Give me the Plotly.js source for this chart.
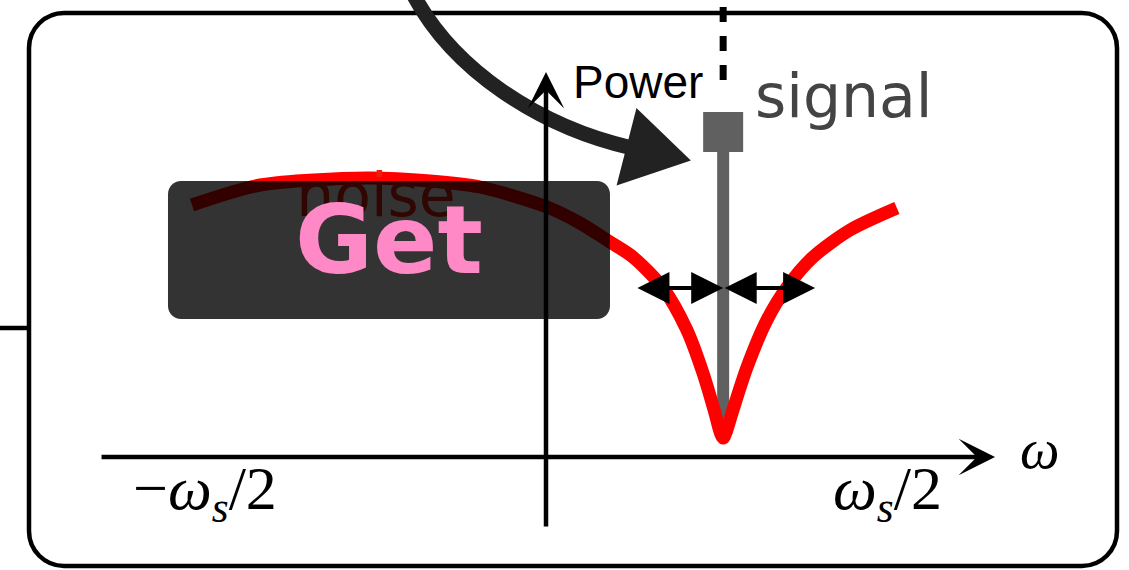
<!DOCTYPE html>
<html>
<head>
<meta charset="utf-8">
<script src="https://cdn.plot.ly/plotly-3.0.1.min.js"></script>
<style>
  html, body { margin: 0; padding: 0; background: #ffffff; }
  #chart { width: 1129px; height: 570px; }
</style>
</head>
<body>
<div id="chart"></div>
<script>
// Noise power spectrum: ω in units of ωs/2, power in arbitrary units.
const noiseOmega = [-1.035, -0.836, -0.523, -0.339, -0.193, 0.003, 0.099, 0.187, 0.254, 0.342,
                    0.412, 0.459, 0.494, 0.509, 0.518, 0.527, 0.544, 0.588, 0.646, 0.705,
                    0.781, 0.889, 1.026];
const noisePower = [2.52, 2.72, 2.79, 2.76, 2.70, 2.50, 2.34, 2.15, 2.00, 1.69,
                    1.27, 0.84, 0.44, 0.25, 0.19, 0.25, 0.44, 0.90, 1.37, 1.70,
                    2.00, 2.27, 2.49];

// Single tone sitting in the notch of the noise.
const signalOmega = [0.518];
const signalPower = [3.25];

// Width of the notch on either side of the tone.
const bandEdges = [0.263, 0.787];
const bandLevel = 1.69;

// Frequency axis labels.
const tickValues = [-1, 1];
const tickLabels = ['−<i>ω<sub>s</sub></i>/2', '<i>ω<sub>s</sub></i>/2'];

// Axis extents (data units).
const omegaAxis = [-1.304, 1.313];
const powerAxis = [-0.71, 3.85];

// ---- scale between screen pixels and data units (for frame decorations) ----
const W = 1129, H = 570;
const ORIGIN_X = 546, ORIGIN_Y = 457, UNIT_X = 342, UNIT_Y = 100;
const X = px => (px - ORIGIN_X) / UNIT_X;
const Y = py => (ORIGIN_Y - py) / UNIT_Y;
const P = (px, py) => X(px).toFixed(4) + ',' + Y(py).toFixed(4);

function roundRectPath(x0, y0, x1, y1, r) {
  const k = 0.5523 * r;
  return 'M' + P(x0 + r, y0) +
    ' L' + P(x1 - r, y0) +
    ' C' + P(x1 - r + k, y0) + ' ' + P(x1, y0 + r - k) + ' ' + P(x1, y0 + r) +
    ' L' + P(x1, y1 - r) +
    ' C' + P(x1, y1 - r + k) + ' ' + P(x1 - r + k, y1) + ' ' + P(x1 - r, y1) +
    ' L' + P(x0 + r, y1) +
    ' C' + P(x0 + r - k, y1) + ' ' + P(x0, y1 - r + k) + ' ' + P(x0, y1 - r) +
    ' L' + P(x0, y0 + r) +
    ' C' + P(x0, y0 + r - k) + ' ' + P(x0 + r - k, y0) + ' ' + P(x0 + r, y0) + ' Z';
}

const noiseFloor = Math.min(...noisePower);

const traces = [
  { // signal stem
    x: [signalOmega[0], signalOmega[0]], y: [noiseFloor, signalPower[0]],
    mode: 'lines', line: { color: '#606060', width: 12 }, hoverinfo: 'skip'
  },
  { // signal head
    x: signalOmega, y: signalPower, mode: 'markers',
    marker: { symbol: 'square', size: 40, color: '#606060' }, hoverinfo: 'skip'
  },
  { // noise spectrum
    x: noiseOmega, y: noisePower, mode: 'lines',
    line: { color: '#ff0000', width: 13, shape: 'spline', smoothing: 0.8 }, hoverinfo: 'skip'
  },
  { // noise label
    x: [X(376)], y: [Y(201)], mode: 'text', text: ['noise'],
    textposition: 'middle center',
    textfont: { family: 'DejaVu Sans', size: 60, color: '#e8200a' }, hoverinfo: 'skip'
  }
];

const shapes = [
  { // rounded frame
    type: 'path', layer: 'below', path: roundRectPath(29, 13, 1117, 566, 35),
    line: { color: '#000000', width: 4.5 }, fillcolor: 'rgba(0,0,0,0)'
  },
  { // connector stub on the left
    type: 'line', layer: 'below', x0: X(0), x1: X(29), y0: Y(328), y1: Y(328),
    line: { color: '#000000', width: 4.5 }
  },
  { // dashed lead to the tone
    type: 'line', layer: 'above', x0: signalOmega[0], x1: signalOmega[0], y0: Y(80), y1: Y(0),
    line: { color: '#000000', width: 7, dash: '15px,14px' }
  },
  { // curved pointer shaft
    type: 'path', layer: 'above',
    path: 'M' + P(412, -8) + ' C' + P(452, 70) + ' ' + P(540, 127) + ' ' + P(632, 148),
    line: { color: '#222222', width: 15 }, fillcolor: 'rgba(0,0,0,0)'
  },
  { // curved pointer head
    type: 'path', layer: 'above',
    path: 'M' + P(637, 110) + ' L' + P(689, 160) + ' L' + P(618, 184) + ' Z',
    line: { color: '#222222', width: 2 }, fillcolor: '#222222'
  },
  { // translucent caption panel
    type: 'path', layer: 'above', path: roundRectPath(168, 181, 610, 319, 13),
    line: { width: 0 }, fillcolor: 'rgba(0,0,0,0.8)'
  }
];

const arrowBase = {
  text: '', showarrow: true, axref: 'x', ayref: 'y', xref: 'x', yref: 'y',
  arrowcolor: '#000000', standoff: 0, startstandoff: 0
};

const annotations = [
  Object.assign({}, arrowBase, { // frequency axis
    x: omegaAxis[1], y: 0, ax: omegaAxis[0], ay: 0,
    arrowhead: 3, arrowwidth: 4.5, arrowsize: 1.35
  }),
  Object.assign({}, arrowBase, { // power axis
    x: 0, y: powerAxis[1], ax: 0, ay: powerAxis[0],
    arrowhead: 3, arrowwidth: 4.5, arrowsize: 1.35
  }),
  Object.assign({}, arrowBase, { // lower half of the notch
    x: signalOmega[0], y: bandLevel, ax: bandEdges[0], ay: bandLevel,
    arrowside: 'end+start', arrowhead: 2, startarrowhead: 2,
    arrowwidth: 4, arrowsize: 1.6, startarrowsize: 1.6
  }),
  Object.assign({}, arrowBase, { // upper half of the notch
    x: bandEdges[1], y: bandLevel, ax: signalOmega[0], ay: bandLevel,
    arrowside: 'end+start', arrowhead: 2, startarrowhead: 2,
    arrowwidth: 4, arrowsize: 1.6, startarrowsize: 1.6
  }),
  { x: X(571), y: Y(82), xref: 'x', yref: 'y', text: 'Power', showarrow: false,
    xanchor: 'left', yanchor: 'middle',
    font: { family: 'Liberation Sans', size: 46, color: '#000000' } },
  { x: X(753), y: Y(96), xref: 'x', yref: 'y', text: 'signal', showarrow: false,
    xanchor: 'left', yanchor: 'middle',
    font: { family: 'DejaVu Sans', size: 60, color: '#444444' } },
  { x: X(1040), y: Y(449), xref: 'x', yref: 'y', text: '<i>ω</i>', showarrow: false,
    xanchor: 'center', yanchor: 'middle',
    font: { family: 'Liberation Serif', size: 56, color: '#000000' } },
  { x: X(389), y: Y(240), xref: 'x', yref: 'y', text: 'Get', showarrow: false,
    xanchor: 'center', yanchor: 'middle',
    font: { family: 'DejaVu Sans', size: 95, weight: 700, color: '#ff89c6' } }
];

tickValues.forEach((v, i) => {
  annotations.push({
    x: v * 0.998, y: Y(492), xref: 'x', yref: 'y', text: tickLabels[i], showarrow: false,
    xanchor: 'center', yanchor: 'middle',
    font: { family: 'Liberation Serif', size: 62, color: '#000000' }
  });
});

const layout = {
  width: W, height: H,
  margin: { l: 0, r: 0, t: 0, b: 0, pad: 0 },
  paper_bgcolor: '#ffffff', plot_bgcolor: '#ffffff',
  showlegend: false, hovermode: false, dragmode: false,
  xaxis: { range: [X(0), X(W)], visible: false, fixedrange: true },
  yaxis: { range: [Y(H), Y(0)], visible: false, fixedrange: true },
  shapes: shapes, annotations: annotations
};

Plotly.newPlot('chart', traces, layout, { staticPlot: true, displayModeBar: false });
</script>
</body>
</html>
